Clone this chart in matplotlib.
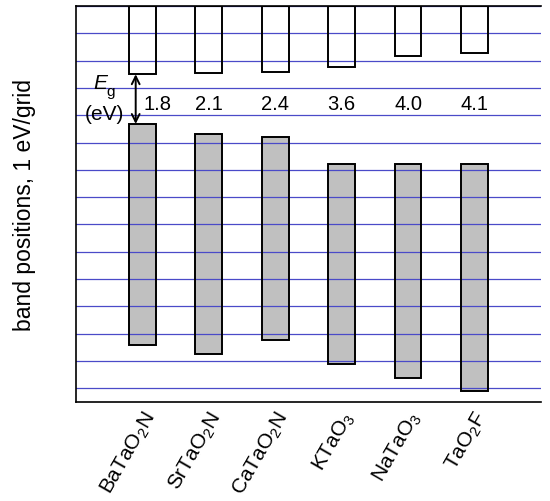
import matplotlib
matplotlib.use('Agg')
import matplotlib.pyplot as plt
import matplotlib.transforms as mtransforms

plt.rcParams['font.family'] = ['Liberation Sans', 'DejaVu Sans']
plt.rcParams['mathtext.fontset'] = 'custom'
plt.rcParams['mathtext.rm'] = 'Liberation Sans'
plt.rcParams['mathtext.it'] = 'Liberation Sans:italic'
plt.rcParams['mathtext.default'] = 'regular'

# band edges (1 eV per grid line, top line = 0)
materials = ['BaTaO$_2$N', 'SrTaO$_2$N', 'CaTaO$_2$N', 'KTaO$_3$', 'NaTaO$_3$', 'TaO$_2$F']
cb_bottom = [-2.50, -2.45, -2.40, -2.22, -1.82, -1.72]
vb_top = [-4.32, -4.67, -4.81, -5.80, -5.80, -5.80]
vb_bottom = [-12.42, -12.76, -12.22, -13.10, -13.62, -14.11]
gap_labels = ['1.8', '2.1', '2.4', '3.6', '4.0', '4.1']
grid_levels = list(range(-14, 1))

fig = plt.figure(figsize=(5.5, 5.02), dpi=100)
ax = fig.add_axes([0.138, 0.1972, 0.8456, 0.7889])

x = list(range(len(materials)))
w = 0.4
cb_h = [0 - c for c in cb_bottom]
vb_h = [t - b for t, b in zip(vb_top, vb_bottom)]

# fills first, grid lines over them, then outlines on top
ax.bar(x, cb_h, bottom=cb_bottom, width=w, color='white', lw=0, zorder=1)
ax.bar(x, vb_h, bottom=vb_bottom, width=w, color='#c0c0c0', lw=0, zorder=1)
for lev in grid_levels:
    ax.axhline(lev, color='#4a4ac8', lw=0.9, zorder=2)
ax.bar(x, cb_h, bottom=cb_bottom, width=w, facecolor='none', edgecolor='black', lw=1.4, zorder=3)
ax.bar(x, vb_h, bottom=vb_bottom, width=w, facecolor='none', edgecolor='black', lw=1.4, zorder=3)

# band gap values
for i, lab in enumerate(gap_labels):
    xi = i + 0.23 if i == 0 else i
    ax.text(xi, -3.76, lab, ha='center', va='baseline', fontsize=14.5, zorder=4)

# Eg arrow for the first material
ax.annotate('', xy=(-0.1, cb_bottom[0]), xytext=(-0.1, vb_top[0]),
            arrowprops=dict(arrowstyle='<->', lw=1.4, shrinkA=0, shrinkB=0, mutation_scale=14),
            zorder=4)
ax.text(-0.73, -3.0, 'E', style='italic', ha='left', va='baseline', fontsize=15, zorder=4)
ax.text(-0.535, -3.25, 'g', ha='left', va='baseline', fontsize=11, zorder=4)
ax.text(-0.563, -4.13, '(eV)', ha='center', va='baseline', fontsize=15, zorder=4)

ax.set_xlim(-1, 6)
ax.set_ylim(-14.5, 0)
ax.set_yticks([])
ax.set_xticks(x)
ax.set_xticklabels(materials, rotation=60, ha='right', va='center',
                   rotation_mode='anchor', fontsize=15)
ax.tick_params(axis='x', length=0, pad=8)
offset = mtransforms.ScaledTranslation(6 / 72, 0, fig.dpi_scale_trans)
for lbl in ax.get_xticklabels():
    lbl.set_transform(lbl.get_transform() + offset)

ax.spines['right'].set_visible(False)
for s in ['left', 'top', 'bottom']:
    ax.spines[s].set_linewidth(1.2)

fig.text(24 / 550, 1 - 205 / 502, 'band positions, 1 eV/grid', rotation=90,
         ha='center', va='center', fontsize=16.5)

fig.savefig('out.png', dpi=100)
